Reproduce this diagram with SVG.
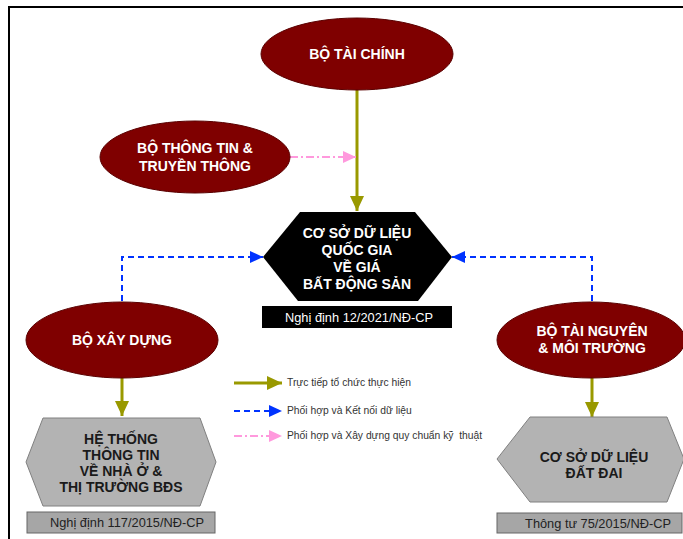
<svg xmlns="http://www.w3.org/2000/svg" width="683" height="539" viewBox="0 0 683 539">
<style>
.ell{fill:#7f0000;stroke:#5a0000;stroke-width:1}
.wt{font-family:"Liberation Sans",Arial,sans-serif;font-weight:bold;font-size:14px;fill:#ffffff;text-anchor:middle}
.dt{font-family:"Liberation Sans",Arial,sans-serif;font-weight:bold;font-size:14px;fill:#1a1a1a;text-anchor:middle}
.hexg{fill:#b3b3b3;stroke:#808080;stroke-width:1}
.capg{fill:#a6a6a6;stroke:#666666;stroke-width:1}
.capt{font-family:"Liberation Sans",Arial,sans-serif;font-size:12.8px;fill:#222222;text-anchor:middle}
.capw{font-family:"Liberation Sans",Arial,sans-serif;font-size:12.8px;fill:#ffffff;text-anchor:middle}
.lg{font-family:"Liberation Sans",Arial,sans-serif;font-size:10.3px;fill:#333333}
.green{stroke:#999900;stroke-width:3;fill:none}
.blue{stroke:#0033ff;stroke-width:2;fill:none;stroke-dasharray:6 4}
.pink{stroke:#ff99dd;stroke-width:2;fill:none;stroke-dasharray:8 3 2 3}
</style>
<defs>
<marker id="ag" markerUnits="userSpaceOnUse" markerWidth="16" markerHeight="16" refX="15" refY="7" orient="auto">
<path d="M0,0 L15,7 L0,14 Z" fill="#999900"/>
</marker>
<marker id="ab" markerUnits="userSpaceOnUse" markerWidth="14" markerHeight="14" refX="13" refY="6" orient="auto">
<path d="M0,0 L13,6 L0,12 Z" fill="#0033ff"/>
</marker>
<marker id="ap" markerUnits="userSpaceOnUse" markerWidth="14" markerHeight="14" refX="13" refY="6" orient="auto">
<path d="M0,0 L13,6 L0,12 Z" fill="#ff99dd"/>
</marker>
</defs>
<rect x="0" y="0" width="683" height="539" fill="#ffffff"/>
<rect x="9" y="7" width="700" height="600" fill="none" stroke="#000000" stroke-width="2"/>

<g id="connectors">
<line class="green" x1="357" y1="90" x2="357" y2="211" marker-end="url(#ag)"/>
<line class="pink" x1="290" y1="157" x2="356" y2="157" marker-end="url(#ap)"/>
<polyline class="blue" points="122,301 122,257 263,257" marker-end="url(#ab)"/>
<polyline class="blue" points="592,301 592,257 452,257" marker-end="url(#ab)"/>
<line class="green" x1="122" y1="378" x2="122" y2="416" marker-end="url(#ag)"/>
<line class="green" x1="592" y1="378" x2="592" y2="417" marker-end="url(#ag)"/>
</g>

<g id="bo-tai-chinh">
<ellipse class="ell" cx="357" cy="54" rx="96" ry="36"/>
<text class="wt" x="357" y="59">BỘ TÀI CHÍNH</text>
</g>

<g id="bo-thong-tin">
<ellipse class="ell" cx="195" cy="157" rx="95" ry="36"/>
<text class="wt" x="195" y="153">BỘ THÔNG TIN &amp;</text>
<text class="wt" x="195" y="171">TRUYỀN THÔNG</text>
</g>

<g id="csdl-quoc-gia">
<polygon points="263,257 300,212 415,212 452,257 418,301 298,301" fill="#000000"/>
<text class="wt" x="357" y="238">CƠ SỞ DỮ LIỆU</text>
<text class="wt" x="357" y="255">QUỐC GIA</text>
<text class="wt" x="357" y="272">VỀ GIÁ</text>
<text class="wt" x="357" y="289">BẤT ĐỘNG SẢN</text>
</g>

<g id="nd-12">
<rect x="262" y="306" width="190" height="22" fill="#000000"/>
<text class="capw" x="359" y="322">Nghị định 12/2021/NĐ-CP</text>
</g>

<g id="bo-xay-dung">
<ellipse class="ell" cx="122" cy="340" rx="96" ry="38"/>
<text class="wt" x="122" y="345">BỘ XÂY DỰNG</text>
</g>

<g id="bo-tnmt">
<ellipse class="ell" cx="591" cy="340" rx="94" ry="38"/>
<text class="wt" x="592" y="336">BỘ TÀI NGUYÊN</text>
<text class="wt" x="592" y="353">&amp; MÔI TRƯỜNG</text>
</g>

<g id="he-thong-thong-tin">
<polygon points="26,462 43,418 200,418 216,462 200,506 43,506" class="hexg"/>
<text class="dt" x="121" y="444">HỆ THỐNG</text>
<text class="dt" x="121" y="460">THÔNG TIN</text>
<text class="dt" x="121" y="476">VỀ NHÀ Ở &amp;</text>
<text class="dt" x="121" y="492">THỊ TRƯỜNG BĐS</text>
</g>

<g id="nd-117">
<rect class="capg" x="27" y="512" width="188" height="21"/>
<text class="capt" x="127" y="527">Nghị định 117/2015/NĐ-CP</text>
</g>

<g id="csdl-dat-dai">
<polygon points="497,459 530,417 667,417 684,459 667,502 530,502" class="hexg"/>
<text class="dt" x="594" y="462">CƠ SỞ DỮ LIỆU</text>
<text class="dt" x="594" y="478">ĐẤT ĐAI</text>
</g>

<g id="tt-75">
<rect class="capg" x="497" y="513" width="185" height="20"/>
<text class="capt" x="598" y="528">Thông tư 75/2015/NĐ-CP</text>
</g>

<g id="legend">
<line class="green" x1="234" y1="383" x2="282" y2="383" marker-end="url(#ag)"/>
<text class="lg" x="287" y="386">Trực tiếp tổ chức thực hiện</text>
<line class="blue" x1="234" y1="411" x2="282" y2="411" marker-end="url(#ab)"/>
<text class="lg" x="287" y="414">Phối hợp và Kết nối dữ liệu</text>
<line class="pink" x1="234" y1="436" x2="282" y2="436" marker-end="url(#ap)"/>
<text class="lg" x="287" y="439" xml:space="preserve">Phối hợp và Xây dựng quy chuẩn kỹ  thuật</text>
</g>
</svg>
